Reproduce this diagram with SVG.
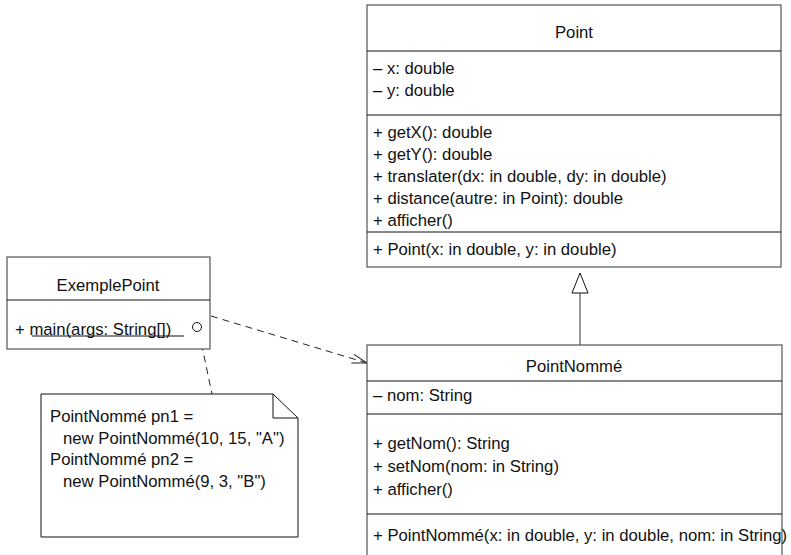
<svg xmlns="http://www.w3.org/2000/svg" width="791" height="555" viewBox="0 0 791 555">
<style>
text{font-family:"Liberation Sans",Arial,sans-serif;font-size:16.7px;fill:#111}
.c{text-anchor:middle}
.box{fill:#fff;stroke:#555;stroke-width:1.2}
.div{stroke:#111;stroke-width:1}
.dash{fill:none;stroke:#222;stroke-width:1;stroke-dasharray:7,5}
</style>
<defs>
<marker id="open" markerWidth="16" markerHeight="10" refX="15" refY="5" orient="auto" markerUnits="userSpaceOnUse">
<path d="M0,0.5 L15,5 L0,9.5" fill="none" stroke="#222" stroke-width="1"/>
</marker>
</defs>
<g id="connectors">
<line x1="211" y1="316" x2="367" y2="363" class="dash" marker-end="url(#open)"/>
<line x1="199" y1="332" x2="212" y2="394" class="dash"/>
<line x1="580" y1="293" x2="580" y2="345" stroke="#777" stroke-width="1.5"/>
<polygon points="580,273 572,293 588,293" fill="#fff" stroke="#111" stroke-width="1"/>
</g>
<g id="Point">
<rect x="367" y="5" width="414" height="262" class="box"/>
<line x1="367" y1="51" x2="781" y2="51" class="div"/>
<line x1="367" y1="115" x2="781" y2="115" class="div"/>
<line x1="367" y1="232" x2="781" y2="232" class="div"/>
<text x="574" y="38" class="c">Point</text>
<text x="373" y="74">– x: double</text>
<text x="373" y="96">– y: double</text>
<text x="373" y="138">+ getX(): double</text>
<text x="373" y="160">+ getY(): double</text>
<text x="373" y="182">+ translater(dx: in double, dy: in double)</text>
<text x="373" y="204">+ distance(autre: in Point): double</text>
<text x="373" y="226">+ afficher()</text>
<text x="373" y="255">+ Point(x: in double, y: in double)</text>
</g>
<g id="ExemplePoint">
<rect x="7" y="257" width="203" height="92" class="box"/>
<line x1="7" y1="300" x2="210" y2="300" class="div"/>
<text x="108" y="291" class="c">ExemplePoint</text>
<text x="15" y="335">+ main(args: String[])</text>
<line x1="32" y1="336" x2="184" y2="336" stroke="#111" stroke-width="1"/>
<circle cx="197" cy="327" r="4.5" fill="#fff" stroke="#111" stroke-width="1"/>
</g>
<g id="Note">
<polygon points="41,394 273,394 298,418 298,537 41,537" fill="#fff" stroke="#111" stroke-width="1"/>
<polyline points="273,394 273,418 298,418" fill="none" stroke="#111" stroke-width="1"/>
<text x="50" y="422">PointNommé pn1 =</text>
<text x="63" y="444">new PointNommé(10, 15, "A")</text>
<text x="50" y="465">PointNommé pn2 =</text>
<text x="63" y="487">new PointNommé(9, 3, "B")</text>
</g>
<g id="PointNomme">
<rect x="367" y="345" width="415" height="220" class="box"/>
<line x1="367" y1="381" x2="782" y2="381" class="div"/>
<line x1="367" y1="414" x2="782" y2="414" class="div"/>
<line x1="367" y1="514" x2="782" y2="514" class="div"/>
<text x="574" y="372" class="c">PointNommé</text>
<text x="373" y="401">– nom: String</text>
<text x="373" y="449">+ getNom(): String</text>
<text x="373" y="472">+ setNom(nom: in String)</text>
<text x="373" y="495">+ afficher()</text>
<text x="373" y="541">+ PointNommé(x: in double, y: in double, nom: in String)</text>
</g>
</svg>
